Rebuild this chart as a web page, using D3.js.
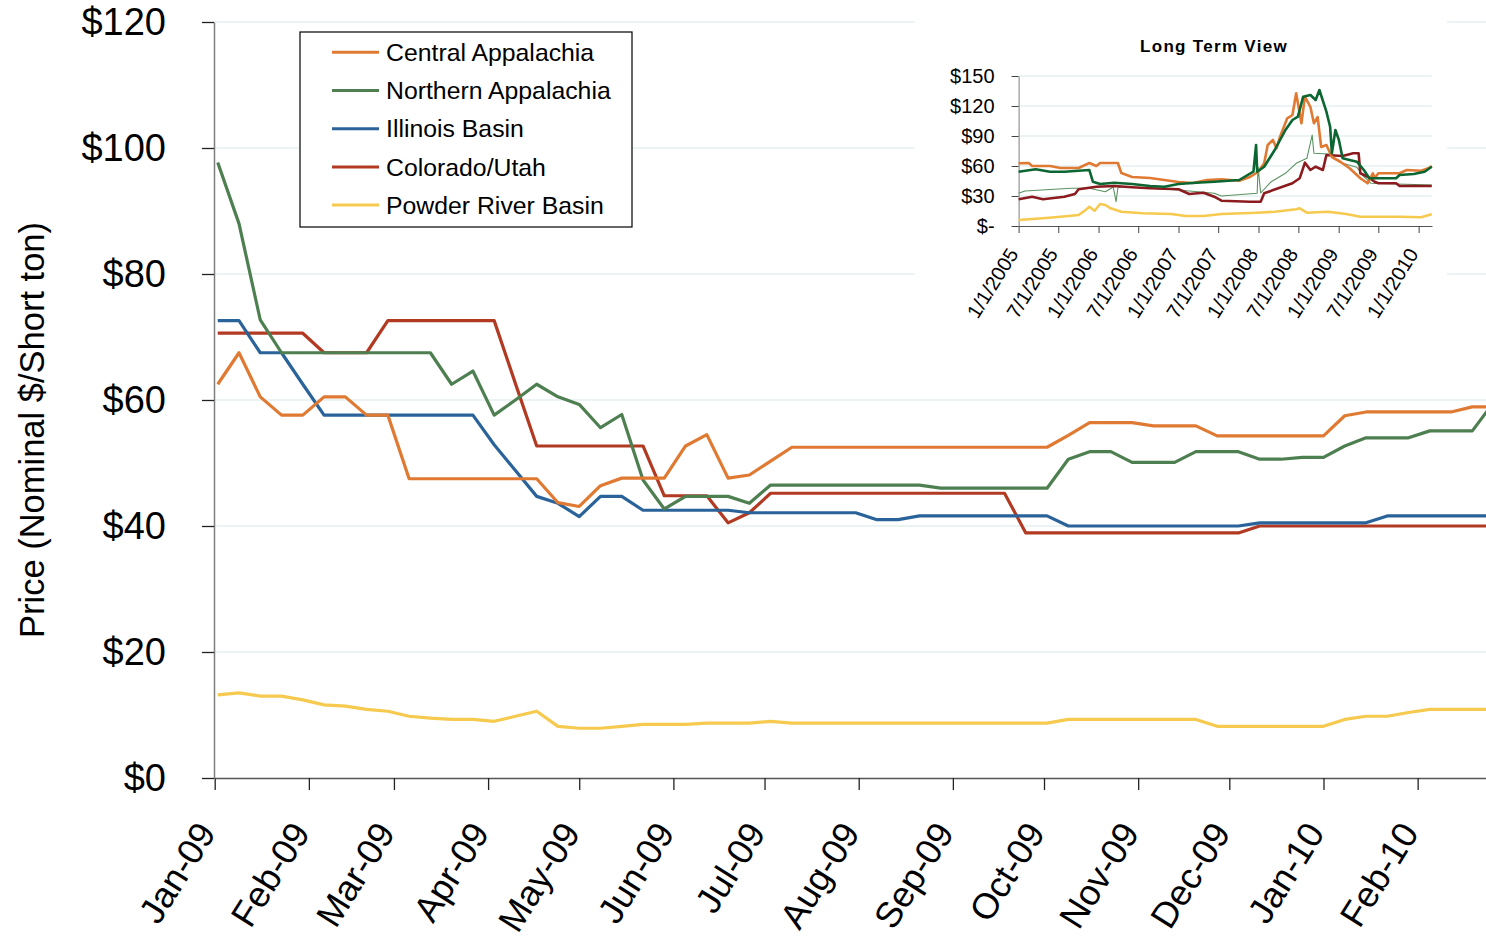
<!DOCTYPE html>
<html>
<head>
<meta charset="utf-8">
<script src="https://cdn.jsdelivr.net/npm/d3@7"></script>
<style>
  body { margin: 0; background: #fff; }
  svg { display: block; font-family: "Liberation Sans", Arial, sans-serif; }
</style>
</head>
<body>
<div class="chart"></div>
<script>
// Weekly spot prices, first week ending 1/2/2009
var firstWeek = "2009-01-02";
var seriesNames = ["Central Appalachia", "Northern Appalachia", "Illinois Basin", "Colorado/Utah", "Powder River Basin"];
var centralApp = [62.5, 67.5, 60.5, 57.6, 57.6, 60.5, 60.5, 57.6, 57.6, 47.5,
  47.5, 47.5, 47.5, 47.5, 47.5, 47.5, 43.7, 43.1, 46.4, 47.6,
  47.6, 47.6, 52.7, 54.5, 47.6, 48.1, 50.3, 52.5, 52.5, 52.5,
  52.5, 52.5, 52.5, 52.5, 52.5, 52.5, 52.5, 52.5, 52.5, 52.5,
  54.4, 56.4, 56.4, 56.4, 55.9, 55.9, 55.9, 54.3, 54.3, 54.3,
  54.3, 54.3, 54.3, 57.5, 58.1, 58.1, 58.1, 58.1, 58.1, 58.9, 58.9];
var northernApp = [97.7, 88.0, 72.7, 67.5, 67.5, 67.5, 67.5, 67.5, 67.5, 67.5,
  67.5, 62.5, 64.6, 57.6, 60.0, 62.5, 60.5, 59.3, 55.6, 57.7,
  47.3, 42.7, 44.7, 44.7, 44.7, 43.6, 46.5, 46.5, 46.5, 46.5,
  46.5, 46.5, 46.5, 46.5, 46.0, 46.0, 46.0, 46.0, 46.0, 46.0,
  50.6, 51.8, 51.8, 50.1, 50.1, 50.1, 51.8, 51.8, 51.8, 50.6,
  50.6, 50.9, 50.9, 52.7, 54.0, 54.0, 54.0, 55.1, 55.1, 55.1, 59.6];
var illinoisBasin = [72.6, 72.6, 67.5, 67.5, 62.5, 57.6, 57.6, 57.6, 57.6, 57.6,
  57.6, 57.6, 57.6, 52.9, 48.8, 44.7, 43.6, 41.5, 44.7, 44.7,
  42.5, 42.5, 42.5, 42.5, 42.5, 42.1, 42.1, 42.1, 42.1, 42.1,
  42.1, 41.0, 41.0, 41.6, 41.6, 41.6, 41.6, 41.6, 41.6, 41.6,
  40.0, 40.0, 40.0, 40.0, 40.0, 40.0, 40.0, 40.0, 40.0, 40.5,
  40.5, 40.5, 40.5, 40.5, 40.5, 41.6, 41.6, 41.6, 41.6, 41.6, 41.6];
var coloradoUtah = [70.6, 70.6, 70.6, 70.6, 70.6, 67.5, 67.5, 67.5, 72.6, 72.6,
  72.6, 72.6, 72.6, 72.6, 62.6, 52.7, 52.7, 52.7, 52.7, 52.7,
  52.7, 44.8, 44.8, 44.8, 40.5, 42.1, 45.2, 45.2, 45.2, 45.2,
  45.2, 45.2, 45.2, 45.2, 45.2, 45.2, 45.2, 45.2, 38.9, 38.9,
  38.9, 38.9, 38.9, 38.9, 38.9, 38.9, 38.9, 38.9, 38.9, 40.0,
  40.0, 40.0, 40.0, 40.0, 40.0, 40.0, 40.0, 40.0, 40.0, 40.0, 40.0];
var powderRiver = [13.2, 13.5, 13.0, 13.0, 12.4, 11.6, 11.4, 10.9, 10.6, 9.8,
  9.5, 9.3, 9.3, 9.0, 9.8, 10.6, 8.2, 7.9, 7.9, 8.2,
  8.5, 8.5, 8.5, 8.7, 8.7, 8.7, 9.0, 8.7, 8.7, 8.7,
  8.7, 8.7, 8.7, 8.7, 8.7, 8.7, 8.7, 8.7, 8.7, 8.7,
  9.3, 9.3, 9.3, 9.3, 9.3, 9.3, 9.3, 8.2, 8.2, 8.2,
  8.2, 8.2, 8.2, 9.3, 9.8, 9.8, 10.4, 10.9, 10.9, 10.9, 10.9];
var mainColors = ["#E07A33", "#4E7F50", "#2A6399", "#B23A22", "#F6C94F"];
var yTicks = [0, 20, 40, 60, 80, 100, 120];
var monthLabels = ["Jan-09", "Feb-09", "Mar-09", "Apr-09", "May-09", "Jun-09", "Jul-09",
  "Aug-09", "Sep-09", "Oct-09", "Nov-09", "Dec-09", "Jan-10", "Feb-10"];

// Long term view (inset), [date, price]
var ltCentral = [["2005-01-01", 62.7], ["2005-02-16", 63], ["2005-03-04", 60], ["2005-05-24", 60], ["2005-07-12", 58],
  ["2005-10-02", 58], ["2005-11-20", 63], ["2005-12-22", 60], ["2006-01-08", 63], ["2006-03-30", 63],
  ["2006-04-15", 53], ["2006-06-03", 49], ["2006-08-24", 48], ["2006-10-28", 46], ["2007-01-01", 44],
  ["2007-03-07", 43], ["2007-05-11", 46], ["2007-07-16", 46.7], ["2007-10-05", 45.3], ["2007-11-23", 49],
  ["2007-12-30", 54], ["2008-01-27", 62.7], ["2008-02-12", 81], ["2008-03-07", 86], ["2008-03-23", 77.7],
  ["2008-04-08", 89], ["2008-05-11", 107.7], ["2008-06-04", 111], ["2008-06-21", 132.7], ["2008-07-15", 102.7],
  ["2008-07-31", 129.3], ["2008-08-25", 119], ["2008-09-10", 102.7], ["2008-09-27", 109], ["2008-10-13", 79],
  ["2008-11-06", 81], ["2008-12-01", 69], ["2009-01-10", 64], ["2009-02-20", 57.7], ["2009-04-10", 47.7],
  ["2009-05-13", 42.7], ["2009-06-06", 52.7], ["2009-06-14", 47.7], ["2009-07-01", 52.7], ["2009-10-06", 52.7],
  ["2009-11-08", 56], ["2010-01-12", 55.3], ["2010-02-14", 57.7], ["2010-03-02", 60]];
var ltNorthern = [["2005-01-01", 54.3], ["2005-03-20", 56.7], ["2005-05-24", 54.3], ["2005-07-29", 54.3], ["2005-11-20", 56],
  ["2005-12-06", 44.3], ["2006-01-08", 42], ["2006-03-14", 43.3], ["2006-06-03", 42], ["2006-08-24", 40],
  ["2006-10-28", 39.3], ["2007-01-01", 42], ["2007-03-23", 43.3], ["2007-06-13", 44.3], ["2007-10-05", 46],
  ["2007-12-09", 54.3], ["2007-12-21", 81], ["2007-12-26", 54.3], ["2008-01-27", 59.3], ["2008-03-15", 76],
  ["2008-05-03", 96], ["2008-06-04", 106], ["2008-06-29", 109.3], ["2008-07-23", 129.3], ["2008-08-25", 131],
  ["2008-09-18", 126], ["2008-10-05", 136], ["2008-11-06", 114.3], ["2008-11-23", 99.3], ["2008-12-01", 72.7],
  ["2008-12-17", 96], ["2009-01-02", 86], ["2009-01-19", 67.7], ["2009-02-20", 66], ["2009-03-25", 64.3],
  ["2009-04-26", 56], ["2009-05-21", 47.7], ["2009-09-20", 47.7], ["2009-10-06", 51], ["2009-12-10", 52],
  ["2010-01-28", 54.3], ["2010-03-02", 59.3]];
var ltIllinois = [["2005-01-01", 32.7], ["2005-01-30", 35], ["2005-08-30", 37.7], ["2005-11-20", 37.7], ["2006-02-01", 34.3],
  ["2006-03-09", 39], ["2006-03-22", 24.3], ["2006-03-30", 38], ["2006-04-15", 39.3], ["2006-08-24", 37.7],
  ["2007-01-01", 36], ["2007-06-13", 32.7], ["2007-07-16", 30], ["2007-12-26", 32.7], ["2007-12-30", 59],
  ["2008-01-11", 33], ["2008-02-28", 44.3], ["2008-05-03", 52.7], ["2008-06-21", 62.7], ["2008-08-09", 67.7],
  ["2008-09-02", 91], ["2008-09-10", 72.7], ["2008-11-14", 72], ["2009-01-19", 62.7], ["2009-03-25", 58.7],
  ["2009-04-26", 49.3], ["2009-05-29", 42.7], ["2010-03-02", 41]];
var ltColorado = [["2005-01-01", 26.7], ["2005-03-04", 29.3], ["2005-04-22", 26.7], ["2005-07-29", 29.3], ["2005-09-15", 32],
  ["2005-10-02", 36.7], ["2005-12-22", 39.3], ["2006-03-14", 40], ["2006-06-03", 38.7], ["2006-08-24", 37.7],
  ["2007-01-01", 36.7], ["2007-02-19", 32], ["2007-04-25", 33.3], ["2007-06-13", 29.3], ["2007-07-16", 25.3],
  ["2007-11-23", 24.3], ["2008-01-11", 24.3], ["2008-01-27", 32.7], ["2008-03-31", 37.7], ["2008-06-04", 42.7],
  ["2008-07-07", 47.7], ["2008-07-31", 63.3], ["2008-08-25", 56], ["2008-09-18", 59.3], ["2008-10-21", 56],
  ["2008-11-06", 71], ["2009-01-19", 70], ["2009-03-08", 72.7], ["2009-04-02", 72.7], ["2009-04-10", 52.7],
  ["2009-05-13", 49.3], ["2009-06-14", 44.3], ["2009-07-01", 42.7], ["2009-09-20", 42.7], ["2009-10-06", 40],
  ["2010-03-02", 40]];
var ltPowder = [["2005-01-01", 6], ["2005-04-22", 7.7], ["2005-07-12", 9.3], ["2005-10-02", 11], ["2005-11-03", 16],
  ["2005-11-20", 19.3], ["2005-12-14", 15.3], ["2006-01-08", 22], ["2006-02-01", 21], ["2006-02-25", 17.7],
  ["2006-04-15", 14.3], ["2006-07-22", 12.7], ["2006-11-29", 12], ["2007-02-03", 10], ["2007-04-25", 10],
  ["2007-07-16", 12], ["2007-12-26", 13.3], ["2008-03-15", 14.3], ["2008-06-21", 16.7], ["2008-07-07", 17.7],
  ["2008-08-09", 13.3], ["2008-11-14", 14.3], ["2009-02-04", 12], ["2009-04-10", 9.3], ["2009-10-06", 9.3],
  ["2010-01-12", 8.7], ["2010-03-02", 11.7]];
var ltColors = ["#E07A33", "#0B6632", "#5A9260", "#8C1B1F", "#F6C94F"];
var ltWidths = [2.6, 2.6, 1.1, 2.6, 2.6];
var ltYTicks = [0, 30, 60, 90, 120, 150];
var ltXLabels = ["1/1/2005", "7/1/2005", "1/1/2006", "7/1/2006", "1/1/2007", "7/1/2007",
  "1/1/2008", "7/1/2008", "1/1/2009", "7/1/2009", "1/1/2010"];

function init() {
  var w = 1486, h = 941;
  var left = 214.7, right = 1486, top = 22, bottom = 778;
  var parseDay = d3.timeParse("%Y-%m-%d");
  var parseMonth = d3.timeParse("%b-%y");
  var parseSlash = d3.timeParse("%m/%d/%Y");

  var start = parseDay(firstWeek);
  var weeks = d3.range(centralApp.length).map(function (i) { return d3.timeDay.offset(start, 7 * i); });
  var allSeries = [centralApp, northernApp, illinoisBasin, coloradoUtah, powderRiver];

  var svg = d3.select(".chart").append("svg")
    .attr("width", w)
    .attr("height", h);

  var x = d3.scaleTime()
    .domain([new Date(2009, 0, 1), new Date(2010, 1, 23, 12)])
    .range([left, right]);
  var y = d3.scaleLinear()
    .domain([0, 120])
    .range([bottom, top]);

  // gridlines
  svg.append("g").selectAll("line")
    .data(yTicks.filter(function (d) { return d > 0; }))
    .enter().append("line")
    .attr("x1", 214).attr("x2", right)
    .attr("y1", function (d) { return y(d); })
    .attr("y2", function (d) { return y(d); })
    .attr("stroke", "#D9E7EB")
    .attr("stroke-width", 1.2);

  // y axis
  var yAxis = svg.append("g")
    .attr("transform", "translate(214,0)")
    .call(d3.axisLeft(y).tickValues(yTicks).tickSize(12).tickSizeOuter(0).tickPadding(36)
      .tickFormat(function (d) { return "$" + d; }));
  yAxis.select(".domain").attr("stroke", "#7f7f7f").attr("stroke-width", 1.5);
  yAxis.selectAll(".tick line").attr("stroke", "#222").attr("stroke-width", 1.3);
  yAxis.selectAll("text").style("font-size", "38px").attr("fill", "#000");

  // x axis
  var monthDates = monthLabels.map(function (d) { return parseMonth(d); });
  var xAxis = svg.append("g")
    .attr("transform", "translate(0," + bottom + ")")
    .call(d3.axisBottom(x).tickValues(monthDates).tickSize(12).tickSizeOuter(0)
      .tickFormat(d3.timeFormat("%b-%y")));
  xAxis.select(".domain").attr("stroke", "#555").attr("stroke-width", 1.5);
  xAxis.selectAll(".tick line").attr("stroke", "#222").attr("stroke-width", 1.3);
  xAxis.selectAll("text")
    .style("font-size", "36px")
    .attr("fill", "#000")
    .attr("x", 0).attr("y", 0).attr("dy", "0.35em")
    .attr("text-anchor", "end")
    .attr("transform", "translate(-9,48) rotate(-58)");

  // y axis title
  svg.append("text")
    .attr("transform", "translate(44,430) rotate(-90)")
    .attr("text-anchor", "middle")
    .style("font-size", "34.5px")
    .text("Price (Nominal $/Short ton)");

  // lines
  svg.append("clipPath").attr("id", "plotClip")
    .append("rect").attr("x", 214).attr("y", 0).attr("width", right - 214).attr("height", bottom);
  var line = d3.line()
    .x(function (d, i) { return x(weeks[i]); })
    .y(function (d) { return y(d); });
  var lines = svg.append("g").attr("clip-path", "url(#plotClip)");
  allSeries.slice().reverse().forEach(function (s, j) {
    var idx = allSeries.length - 1 - j;
    lines.append("path")
      .datum(s)
      .attr("fill", "none")
      .attr("stroke", mainColors[idx])
      .attr("stroke-width", 3.2)
      .attr("stroke-linejoin", "round")
      .attr("d", line);
  });

  // legend
  var legend = svg.append("g");
  legend.append("rect")
    .attr("x", 300).attr("y", 32).attr("width", 332).attr("height", 195)
    .attr("fill", "#fff").attr("stroke", "#000").attr("stroke-width", 1.2);
  seriesNames.forEach(function (name, i) {
    var ry = 52.3 + i * 38.2;
    legend.append("line")
      .attr("x1", 332).attr("x2", 379).attr("y1", ry).attr("y2", ry)
      .attr("stroke", mainColors[i]).attr("stroke-width", 3);
    legend.append("text")
      .attr("x", 386).attr("y", ry).attr("dy", "0.35em")
      .style("font-size", "24.8px")
      .text(name);
  });

  // inset: long term view
  var inset = svg.append("g");
  inset.append("rect")
    .attr("x", 915).attr("y", 8).attr("width", 532).attr("height", 326)
    .attr("fill", "#fff");
  inset.append("text")
    .attr("x", 1214).attr("y", 52)
    .attr("text-anchor", "middle")
    .style("font-size", "17px").style("font-weight", "bold").style("letter-spacing", "1.3px")
    .text("Long Term View");

  var lx = d3.scaleTime()
    .domain([new Date(2005, 0, 1), new Date(2010, 2, 3)])
    .range([1018.6, 1432]);
  var ly = d3.scaleLinear()
    .domain([0, 150])
    .range([226, 76]);

  inset.append("g").selectAll("line")
    .data(ltYTicks.filter(function (d) { return d > 0; }))
    .enter().append("line")
    .attr("x1", 1018.6).attr("x2", 1432)
    .attr("y1", function (d) { return ly(d); })
    .attr("y2", function (d) { return ly(d); })
    .attr("stroke", "#D9E7EB");

  var lyAxis = inset.append("g")
    .attr("transform", "translate(1018.6,0)")
    .call(d3.axisLeft(ly).tickValues(ltYTicks).tickSize(7).tickSizeOuter(0).tickPadding(17)
      .tickFormat(function (d) { return d === 0 ? "$-" : "$" + d; }));
  lyAxis.select(".domain").attr("stroke", "#7f7f7f");
  lyAxis.selectAll(".tick line").attr("stroke", "#444");
  lyAxis.selectAll("text").style("font-size", "20px").attr("fill", "#000");

  var lxAxis = inset.append("g")
    .attr("transform", "translate(0,226)")
    .call(d3.axisBottom(lx).tickValues(ltXLabels.map(function (d) { return parseSlash(d); }))
      .tickSize(7).tickSizeOuter(0).tickFormat(d3.timeFormat("%-m/%-d/%Y")));
  lxAxis.select(".domain").attr("stroke", "#555");
  lxAxis.selectAll(".tick line").attr("stroke", "#444");
  lxAxis.selectAll("text")
    .style("font-size", "20px")
    .attr("fill", "#000")
    .attr("x", 0).attr("y", 0).attr("dy", "0.35em")
    .attr("text-anchor", "end")
    .attr("transform", "translate(-6,24) rotate(-58)");

  var ltLine = d3.line()
    .x(function (d) { return lx(parseDay(d[0])); })
    .y(function (d) { return ly(d[1]); });
  var ltSeries = [ltIllinois, ltPowder, ltColorado, ltCentral, ltNorthern];
  var ltOrder = [2, 4, 3, 0, 1];
  ltSeries.forEach(function (s, j) {
    var idx = ltOrder[j];
    inset.append("path")
      .datum(s)
      .attr("fill", "none")
      .attr("stroke", ltColors[idx])
      .attr("stroke-width", ltWidths[idx])
      .attr("stroke-linejoin", "round")
      .attr("d", ltLine);
  });
}
window.onload = init;
</script>
</body>
</html>
